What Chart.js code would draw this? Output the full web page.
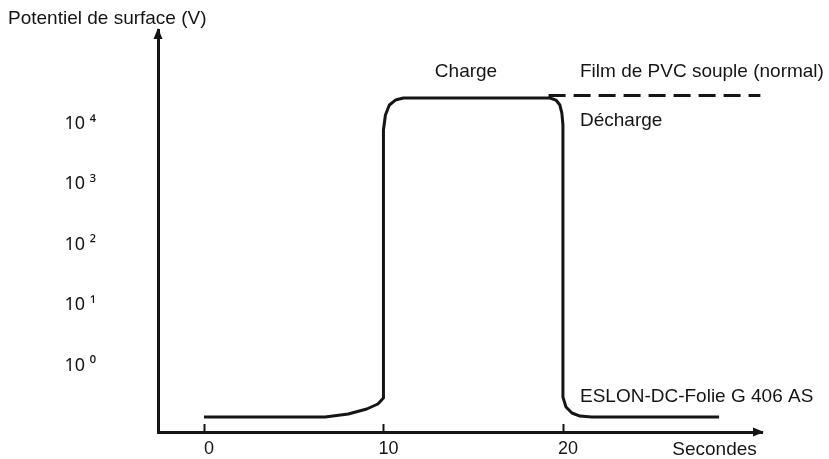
<!DOCTYPE html>
<html>
<head>
<meta charset="utf-8">
<script src="https://cdn.jsdelivr.net/npm/chart.js@4.4.1/dist/chart.umd.min.js"></script>
<style>
  html, body { margin: 0; padding: 0; background: #fff; }
  #chart { display: block; }
</style>
</head>
<body>
<canvas id="chart" width="829" height="459"></canvas>
<script>
// --- données ---
const eslonX = [0, 6.75, 8.04, 9.07, 9.69, 10, 10, 10.11, 10.33, 10.67, 11.11, 19.28, 19.61, 19.83, 19.94, 20, 20, 20.17, 20.5, 20.95, 21.6, 28.7];
const eslonY = [0.141, 0.141, 0.158, 0.191, 0.231, 0.29, 7800, 13800, 20200, 24400, 26400, 26400, 24400, 20200, 14900, 9440, 0.30, 0.206, 0.164, 0.146, 0.141, 0.141];
const pvcX = [19.2, 31.0];
const pvcY = [29000, 29000];

const xTicks = [0, 10, 20];
const yTicks = [1, 10, 100, 1000, 10000];
const yTickLabels = ['10 \u2070', '10 \u00b9', '10 \u00b2', '10 \u00b3', '10 \u2074'];

const INK = '#151515';
const FONT = '"Liberation Sans", Arial, sans-serif';

const toPoints = (xs, ys) => xs.map((x, i) => ({ x, y: ys[i] }));

// flèches, petites graduations et textes
const decor = {
  id: 'decor',
  afterDraw(chart) {
    const { ctx, chartArea: a, scales: { x, y } } = chart;
    ctx.save();
    ctx.fillStyle = INK;
    ctx.strokeStyle = INK;

    // pointe de l'axe vertical
    ctx.beginPath();
    ctx.moveTo(a.left, a.top - 2);
    ctx.lineTo(a.left - 4.5, a.top + 9);
    ctx.lineTo(a.left + 4.5, a.top + 9);
    ctx.closePath();
    ctx.fill();

    // pointe de l'axe horizontal
    ctx.beginPath();
    ctx.moveTo(a.right + 2, a.bottom);
    ctx.lineTo(a.right - 9, a.bottom - 4.5);
    ctx.lineTo(a.right - 9, a.bottom + 4.5);
    ctx.closePath();
    ctx.fill();

    // graduations vers le haut
    ctx.lineWidth = 2;
    xTicks.forEach(v => {
      const px = Math.round(x.getPixelForValue(v)) + 0.5;
      ctx.beginPath();
      ctx.moveTo(px, a.bottom);
      ctx.lineTo(px, a.bottom - 8);
      ctx.stroke();
    });

    ctx.font = '19px ' + FONT;
    ctx.textBaseline = 'alphabetic';

    ctx.textAlign = 'center';
    ctx.fillText('Charge', x.getPixelForValue(14.6), y.getPixelForValue(58700));

    ctx.textAlign = 'left';
    ctx.fillText('Film de PVC souple (normal)', x.getPixelForValue(20.95), y.getPixelForValue(58700));
    ctx.fillText('Décharge', x.getPixelForValue(20.95), y.getPixelForValue(9080));
    ctx.fillText('ESLON-DC-Folie G 406 AS', x.getPixelForValue(20.95), y.getPixelForValue(0.249));

    ctx.textAlign = 'right';
    ctx.fillText('Secondes', x.getPixelForValue(30.8), a.bottom + 23);
    ctx.restore();
  }
};

new Chart(document.getElementById('chart'), {
  type: 'line',
  data: {
    datasets: [
      {
        label: 'ESLON-DC-Folie G 406 AS',
        data: toPoints(eslonX, eslonY),
        borderColor: INK,
        borderWidth: 3,
        pointRadius: 0,
        tension: 0,
        borderJoinStyle: 'round',
        borderCapStyle: 'butt'
      },
      {
        label: 'Film de PVC souple (normal)',
        data: toPoints(pvcX, pvcY),
        borderColor: INK,
        borderWidth: 3,
        borderDash: [17, 8],
        pointRadius: 0,
        tension: 0
      }
    ]
  },
  options: {
    responsive: false,
    animation: false,
    devicePixelRatio: 1,
    layout: { padding: { left: 8, right: 67, top: 0, bottom: 0 } },
    plugins: {
      legend: { display: false },
      tooltip: { enabled: false },
      title: {
        display: true,
        text: 'Potentiel de surface (V)',
        align: 'start',
        color: INK,
        font: { family: FONT, size: 19, weight: 'normal', lineHeight: 1.2 },
        padding: { top: 7, bottom: 0.2 }
      }
    },
    scales: {
      x: {
        type: 'linear',
        min: -2.56,
        max: 31.09,
        grid: { display: false, drawTicks: false },
        border: { display: true, width: 3, color: INK },
        afterBuildTicks: s => { s.ticks = xTicks.map(v => ({ value: v })); },
        afterFit: s => { s.height = 27; },
        ticks: {
          color: INK,
          font: { family: FONT, size: 18 },
          padding: 6,
          labelOffset: 5,
          maxRotation: 0,
          callback: v => String(v)
        }
      },
      y: {
        type: 'logarithmic',
        min: 0.0796,
        max: 351000,
        grid: { display: false, drawTicks: false },
        border: { display: true, width: 3, color: INK },
        afterBuildTicks: s => { s.ticks = yTicks.map(v => ({ value: v })); },
        afterFit: s => { s.width = 150; s.paddingTop = 0; s.paddingBottom = 0; },
        ticks: {
          color: INK,
          font: { family: '"Noto Sans", "Liberation Sans", sans-serif', size: 18 },
          padding: 62,
          callback: v => yTickLabels[yTicks.indexOf(v)] ?? ''
        }
      }
    }
  },
  plugins: [decor]
});
</script>
</body>
</html>
